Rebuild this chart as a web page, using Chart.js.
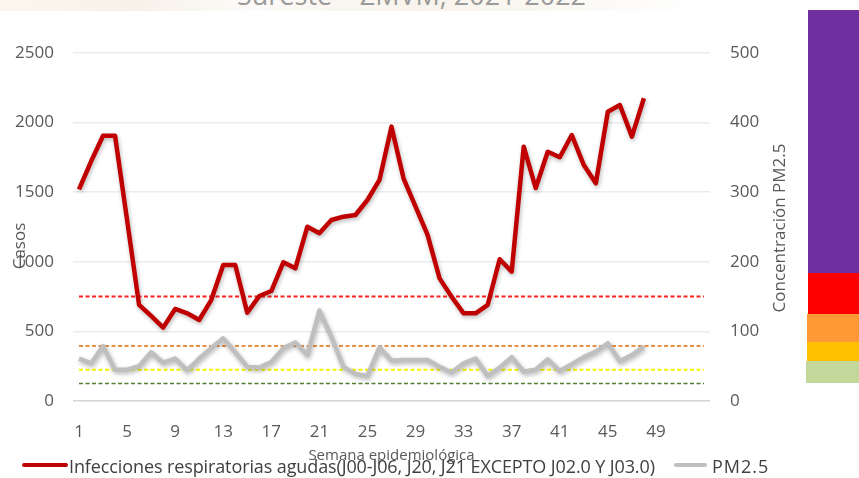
<!DOCTYPE html>
<html>
<head>
<meta charset="utf-8">
<script src="https://cdn.jsdelivr.net/npm/chart.js@4.4.1/dist/chart.umd.min.js"></script>
<style>
  body { margin: 0; background: #fff; font-family: 'Open Sans', sans-serif; }
  #wrap { position: relative; width: 859px; height: 478px; overflow: hidden; background: #fff; }
  #topstrip { position: absolute; left: 0; top: 0; width: 700px; height: 11px;
    background: linear-gradient(90deg, #fbf6ee 0%, #f7f1ea 20%, #fdfbf8 35%, #f8f3ec 60%, #fbf8f3 80%, #ffffff 100%); }
  #box { position: absolute; left: 0; top: 0; width: 800px; height: 478px; }
  #title { position: absolute; left: 237px; top: -19px; font-size: 27px; line-height: 27px; color: #9a9a9a; white-space: nowrap; }
  .band { position: absolute; }
  #legend { position: absolute; left: 0; top: 456px; height: 20px; font-size: 18px; color: #404040; white-space: nowrap; }
  #legend span.item { position: absolute; top: 0; line-height: 20px; }
  #legend i { position: absolute; top: 7px; height: 4px; border-radius: 2px; }
</style>
</head>
<body>
<div id="wrap">
  <div id="topstrip"></div>
  <div id="title">Sureste – ZMVM, 2021-2022</div>
  <div id="box"><canvas id="chart"></canvas></div>
  <div class="band" style="left:808px;top:10px;width:51px;height:263px;background:#7030a0"></div>
  <div class="band" style="left:808px;top:273px;width:51px;height:41px;background:#ff0000"></div>
  <div class="band" style="left:807px;top:314px;width:52px;height:28px;background:#ff9933"></div>
  <div class="band" style="left:807px;top:342px;width:52px;height:19px;background:#ffc000"></div>
  <div class="band" style="left:806px;top:361px;width:53px;height:22px;background:#c4d79b"></div>
  <div id="legend"></div>
</div>
<script>
// semanas epidemiológicas
const weeks = [1, 2, 3, 4, 5, 6, 7, 8, 9, 10, 11, 12, 13, 14, 15, 16, 17, 18, 19, 20,
  21, 22, 23, 24, 25, 26, 27, 28, 29, 30, 31, 32, 33, 34, 35, 36, 37, 38, 39, 40,
  41, 42, 43, 44, 45, 46, 47, 48, 49, 50, 51, 52, 53];

// casos IRA (eje izquierdo)
const iraCases = [1520, 1720, 1905, 1905, 1300, 690, 611, 527, 661, 630, 582, 725, 977, 977, 634, 754,
  790, 996, 953, 1252, 1205, 1300, 1324, 1336, 1444, 1588, 1971, 1600, 1396, 1193, 881, 749,
  630, 630, 690, 1018, 929, 1827, 1530, 1791, 1751, 1911, 1695, 1564, 2078, 2126, 1899, 2175];

// concentración PM2.5 (eje derecho)
const pm25 = [61, 54, 79, 45, 45, 50, 70, 55, 61, 44, 61, 76, 90, 70, 49, 48, 56, 76, 84, 66,
  130, 92, 49, 39, 36, 77, 58, 59, 59, 59, 49, 41, 54, 61, 36, 48, 63, 42, 45, 60,
  43, 53, 63, 71, 83, 57, 66, 78];

// límites de PM2.5 (líneas punteadas)
const pm25Limits = [150, 79, 45, 25];

const seriesLabels = ['Infecciones respiratorias agudas(J00-J06, J20, J21 EXCEPTO J02.0 Y J03.0)', 'PM2.5'];
const leftTicks = [0, 500, 1000, 1500, 2000, 2500];
const rightTicks = [0, 100, 200, 300, 400, 500];
const axisTitles = ['Casos', 'Concentración PM2.5'];

const limitColors = ['#ff2020', '#e46c0a', '#f5f500', '#4f7f2f'];
const limitWidths = [2, 1.5, 2, 1.5];

const firstWeek = String(weeks[0]);
const lastWeek = String(weeks[weeks.length - 1]);

const limitSets = pm25Limits.map((v, i) => ({
  label: 'limite' + i,
  data: [{ x: firstWeek, y: v }, { x: lastWeek, y: v }],
  yAxisID: 'y1',
  borderColor: limitColors[i],
  borderWidth: limitWidths[i],
  borderDash: [4, 2.5],
  pointRadius: 0,
  order: 3
}));

// sombra suave para las dos series principales
const shadowPlugin = {
  id: 'shadow',
  beforeDatasetDraw(chart, args) {
    if (args.index > 1) return;
    const ctx = chart.ctx;
    ctx.save();
    ctx.shadowColor = 'rgba(0,0,0,0.28)';
    ctx.shadowBlur = 4;
    ctx.shadowOffsetX = 1;
    ctx.shadowOffsetY = 2;
  },
  afterDatasetDraw(chart, args) {
    if (args.index > 1) return;
    chart.ctx.restore();
  }
};

// títulos de ejes verticales, ambos leídos de abajo hacia arriba
const sideTitles = {
  id: 'sideTitles',
  afterDraw(chart) {
    const ctx = chart.ctx;
    const area = chart.chartArea;
    const spots = [
      { text: axisTitles[0], x: 20, y: (area.top + area.bottom) / 2 + 19 },
      { text: axisTitles[1], x: 780, y: (area.top + area.bottom) / 2 + 1 }
    ];
    ctx.save();
    ctx.fillStyle = '#595959';
    ctx.font = '17px "Open Sans"';
    ctx.textAlign = 'center';
    ctx.textBaseline = 'middle';
    spots.forEach(s => {
      ctx.save();
      ctx.translate(s.x, s.y);
      ctx.rotate(-Math.PI / 2);
      ctx.fillText(s.text, 0, 0);
      ctx.restore();
    });
    ctx.restore();
  }
};

const tickFont = { family: 'Open Sans', size: 17 };

new Chart(document.getElementById('chart'), {
  type: 'line',
  data: {
    labels: weeks.map(String),
    datasets: [
      {
        label: seriesLabels[0],
        data: iraCases,
        yAxisID: 'y',
        borderColor: '#c00000',
        borderWidth: 4.5,
        borderJoinStyle: 'round',
        pointRadius: 0,
        tension: 0,
        order: 1
      },
      {
        label: seriesLabels[1],
        data: pm25,
        yAxisID: 'y1',
        borderColor: '#bfbfbf',
        borderWidth: 4.5,
        borderJoinStyle: 'round',
        pointRadius: 0,
        tension: 0,
        order: 2
      },
      ...limitSets
    ]
  },
  options: {
    responsive: true,
    maintainAspectRatio: false,
    animation: false,
    layout: { padding: { top: 53, left: 0, right: 0, bottom: 0 } },
    plugins: {
      legend: { display: false },
      tooltip: { enabled: false }
    },
    scales: {
      x: {
        offset: true,
        grid: { display: false, offset: true },
        border: { display: false },
        ticks: {
          color: '#595959', font: tickFont, padding: 13,
          autoSkip: false, maxRotation: 0,
          callback: (v, i) => (i % 4 === 0 && i < 52 ? weeks[i] : '')
        },
        title: {
          display: true, text: 'Semana epidemiológica',
          color: '#595959', font: { family: 'Open Sans', size: 15 },
          padding: { top: 0, bottom: 13 }
        },
        afterFit: (s) => { s.height = 77; }
      },
      y: {
        position: 'left',
        min: 0, max: 2500,
        afterBuildTicks: (s) => { s.ticks = leftTicks.map(v => ({ value: v })); },
        grid: {
          drawTicks: false,
          color: (c) => (c.tick && c.tick.value === 0 ? '#d4d4d4' : '#ececec'),
          lineWidth: 1.5
        },
        border: { display: false },
        ticks: { color: '#595959', font: tickFont, padding: 19, callback: (v) => String(v) },
        afterFit: (s) => { s.width = 73; }
      },
      y1: {
        position: 'right',
        min: 0, max: 500,
        afterBuildTicks: (s) => { s.ticks = rightTicks.map(v => ({ value: v })); },
        grid: { display: false, drawTicks: false },
        border: { display: false },
        ticks: { color: '#595959', font: tickFont, padding: 20, callback: (v) => String(v) },
        afterFit: (s) => { s.width = 90; }
      }
    }
  },
  plugins: [shadowPlugin, sideTitles]
});

// leyenda inferior
const legend = document.getElementById('legend');
const legendItems = [
  { text: seriesLabels[0], color: '#c00000', lineLeft: 22, lineWidth: 46, textLeft: 69, textWidth: 586 },
  { text: seriesLabels[1], color: '#bfbfbf', lineLeft: 674, lineWidth: 33, textLeft: 712, textWidth: 62 }
];
legendItems.forEach(it => {
  const line = document.createElement('i');
  line.style.left = it.lineLeft + 'px';
  line.style.width = it.lineWidth + 'px';
  line.style.background = it.color;
  legend.appendChild(line);
  const span = document.createElement('span');
  span.className = 'item';
  span.style.left = it.textLeft + 'px';
  span.textContent = it.text;
  legend.appendChild(span);
  // ajustar el espaciado para ocupar el mismo ancho que en la imagen
  const w = span.getBoundingClientRect().width;
  const gap = Math.min(1, (it.textWidth - w) / it.text.length);
  span.style.letterSpacing = gap.toFixed(2) + 'px';
});
</script>
</body>
</html>
